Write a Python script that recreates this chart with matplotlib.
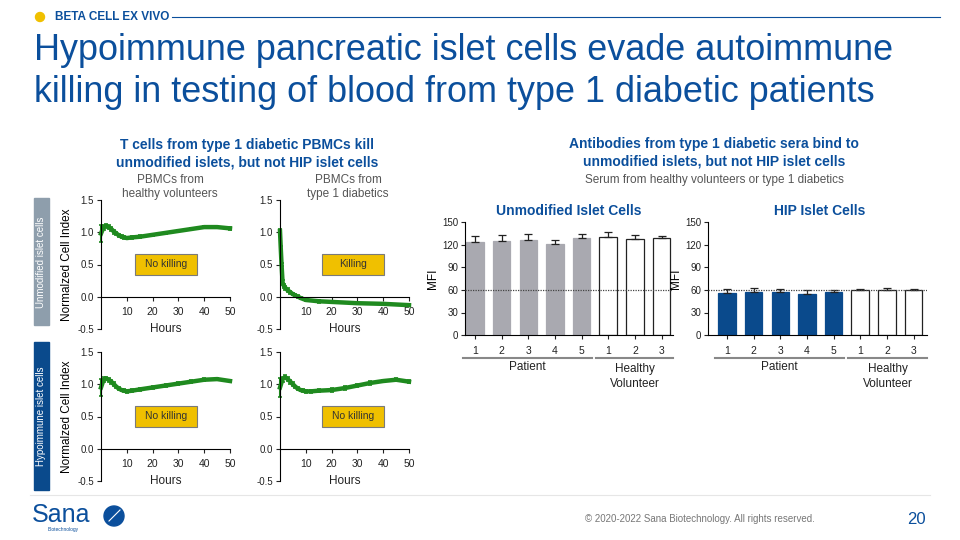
import numpy as np
import matplotlib
matplotlib.use('Agg')
import matplotlib.pyplot as plt
from matplotlib.patches import Rectangle, Ellipse

plt.rcParams['font.family'] = ['Liberation Sans', 'DejaVu Sans']

BLUE = '#0b4f9c'
GREEN = '#1f8a1f'
GOLD = '#f0c000'

# ---- impedance (cell index) curves ----
t_hv_unmod = [0, 1, 2, 3, 4, 5, 6, 7, 8, 9, 10, 12, 15, 20, 25, 30, 35, 40, 45, 50]
v_hv_unmod = [0.98, 1.08, 1.10, 1.08, 1.05, 1.01, 0.98, 0.95, 0.93, 0.92, 0.91, 0.92,
              0.93, 0.96, 0.99, 1.02, 1.05, 1.08, 1.08, 1.06]
e_hv_unmod = [0.13, 0.04, 0.03, 0.03, 0.03, 0.03, 0.02, 0.02, 0.02, 0.02, 0.02, 0.02,
              0.02, 0.02, 0.02, 0.02, 0.02, 0.02, 0.02, 0.02]

t_t1d_unmod = [0, 0.3, 0.6, 1.0, 1.5, 2, 3, 4, 5, 6, 7, 8, 10, 15, 20, 30, 40, 50]
v_t1d_unmod = [1.02, 0.75, 0.50, 0.22, 0.17, 0.14, 0.10, 0.07, 0.04, 0.02, 0.00, -0.02,
               -0.05, -0.07, -0.08, -0.10, -0.11, -0.13]
e_t1d_unmod = [0.03, 0.03, 0.02, 0.04, 0.03, 0.03, 0.03, 0.02, 0.02, 0.02, 0.02, 0.02,
               0.02, 0.02, 0.02, 0.02, 0.02, 0.02]

t_hv_hip = [0, 1, 2, 3, 4, 5, 6, 7, 8, 9, 10, 12, 15, 20, 25, 30, 35, 40, 45, 50]
v_hv_hip = [0.95, 1.07, 1.09, 1.07, 1.04, 1.00, 0.96, 0.93, 0.91, 0.90, 0.89, 0.90,
            0.92, 0.95, 0.98, 1.01, 1.04, 1.07, 1.08, 1.05]
e_hv_hip = [0.13, 0.04, 0.03, 0.03, 0.03, 0.03, 0.02, 0.02, 0.02, 0.02, 0.02, 0.02,
            0.02, 0.02, 0.02, 0.02, 0.02, 0.02, 0.02, 0.02]

t_t1d_hip = [0, 1, 2, 3, 4, 5, 6, 7, 8, 9, 10, 12, 15, 20, 25, 30, 35, 40, 45, 50]
v_t1d_hip = [0.95, 1.08, 1.11, 1.08, 1.04, 1.00, 0.96, 0.93, 0.91, 0.90, 0.89, 0.89,
             0.90, 0.91, 0.94, 0.98, 1.02, 1.05, 1.07, 1.04]
e_t1d_hip = [0.15, 0.04, 0.03, 0.03, 0.03, 0.03, 0.02, 0.02, 0.02, 0.02, 0.02, 0.02,
             0.02, 0.03, 0.03, 0.03, 0.03, 0.02, 0.02, 0.02]

# ---- MFI bars ----
bar_labels = ['1', '2', '3', '4', '5', '1', '2', '3']
mfi_unmod = [124, 125, 127, 121, 129, 130, 128, 129]
err_unmod = [8, 8, 8, 5, 6, 7, 5, 3]
mfi_hip = [56, 58, 58, 55, 57, 60, 60, 60]
err_hip = [5, 5, 3, 5, 3, 2, 3, 2]
n_patients = 5

W, H = 960, 540
fig = plt.figure(figsize=(9.6, 5.4), dpi=100)


def fx(px):
    return px / W


def fy(py):
    return 1 - py / H


def dot(cx, cy, r, color):
    fig.add_artist(Ellipse((fx(cx), fy(cy)), 2 * r / W, 2 * r / H,
                           transform=fig.transFigure, color=color, zorder=3))


# header
dot(40, 17, 4.5, GOLD)
fig.text(fx(55), fy(17), 'BETA CELL EX VIVO', fontsize=8.5, fontweight='bold',
         color=BLUE, va='center')
fig.add_artist(plt.Line2D([fx(172), fx(940)], [fy(17), fy(17)], color=BLUE, lw=0.8))
fig.text(fx(34), fy(51), 'Hypoimmune pancreatic islet cells evade autoimmune',
         fontsize=25.9, color=BLUE, va='center')
fig.text(fx(34), fy(92), 'killing in testing of blood from type 1 diabetic patients',
         fontsize=25.9, color=BLUE, va='center')

# section headings
fig.text(fx(247), fy(154), 'T cells from type 1 diabetic PBMCs kill\nunmodified islets, but not HIP islet cells',
         fontsize=10, fontweight='bold', color=BLUE, ha='center', va='center',
         linespacing=1.3)
fig.text(fx(170), fy(187), 'PBMCs from\nhealthy volunteers', fontsize=8.5, color='#555555',
         ha='center', va='center', linespacing=1.3)
fig.text(fx(348), fy(187), 'PBMCs from\ntype 1 diabetics', fontsize=8.5, color='#555555',
         ha='center', va='center', linespacing=1.3)
fig.text(fx(714), fy(153), 'Antibodies from type 1 diabetic sera bind to\nunmodified islets, but not HIP islet cells',
         fontsize=10, fontweight='bold', color=BLUE, ha='center', va='center',
         linespacing=1.3)
fig.text(fx(714), fy(180), 'Serum from healthy volunteers or type 1 diabetics',
         fontsize=8.5, color='#555555', ha='center', va='center')

# side labels
fig.add_artist(Rectangle((fx(34), fy(325)), fx(15), (325 - 198) / H,
                         transform=fig.transFigure, color='#8e9eac'))
fig.text(fx(41.5), fy(262), 'Unmodified islet cells', rotation=90, fontsize=7,
         color='white', ha='center', va='center')
fig.add_artist(Rectangle((fx(34), fy(490)), fx(15), (490 - 342) / H,
                         transform=fig.transFigure, color='#0a4a8c'))
fig.text(fx(41.5), fy(416), 'Hypoimmune islet cells', rotation=90, fontsize=7,
         color='white', ha='center', va='center')


def line_panel(left_px, top_px, t, v, e, label, ylabel):
    ax = fig.add_axes([fx(left_px), fy(top_px + 129), fx(129), 129 / H])
    ax.errorbar(t, v, yerr=e, color=GREEN, lw=3.2, elinewidth=1.5, capsize=1.5,
                capthick=1.2, clip_on=False)
    ax.set_xlim(0, 50)
    ax.set_ylim(-0.5, 1.5)
    ax.spines['bottom'].set_position(('data', 0))
    ax.spines['top'].set_visible(False)
    ax.spines['right'].set_visible(False)
    ax.set_xticks([10, 20, 30, 40, 50])
    ax.set_yticks([-0.5, 0.0, 0.5, 1.0, 1.5])
    ax.set_yticklabels(['-0.5', '0.0', '0.5', '1.0', '1.5'])
    ax.tick_params(labelsize=7, length=3, width=0.8, colors='#222222', pad=2)
    ax.tick_params(axis='x', labelsize=7.5, pad=4.5)
    ax.patch.set_alpha(0)
    ax.text(0.5, 0.0, 'Hours', transform=ax.transAxes, ha='center', va='center',
            fontsize=8.5, color='#222222')
    if ylabel:
        ax.set_ylabel('Normalzed Cell Index', fontsize=8.5, labelpad=3)
    bx = 0.264 if left_px < 200 else 0.326
    ax.add_patch(Rectangle((bx, 0.42), 0.48, 0.163, transform=ax.transAxes,
                           facecolor=GOLD, edgecolor='#7a7a7a', lw=0.8, zorder=4))
    ax.text(bx + 0.24, 0.42 + 0.0815, label, transform=ax.transAxes, ha='center',
            va='center', fontsize=7.5, color='#333333', zorder=5)
    return ax


line_panel(101, 200, t_hv_unmod, v_hv_unmod, e_hv_unmod, 'No killing', True)
line_panel(280, 200, t_t1d_unmod, v_t1d_unmod, e_t1d_unmod, 'Killing', False)
line_panel(101, 352, t_hv_hip, v_hv_hip, e_hv_hip, 'No killing', True)
line_panel(280, 352, t_t1d_hip, v_t1d_hip, e_t1d_hip, 'No killing', False)


def bar_panel(left_px, right_px, x0_px, vals, errs, color, title, title_x):
    ax = fig.add_axes([fx(left_px), fy(335), fx(right_px - left_px), 112.5 / H])
    x = np.arange(len(vals))
    colors = [color] * n_patients + ['white'] * (len(vals) - n_patients)
    edges = [color] * n_patients + ['#222222'] * (len(vals) - n_patients)
    ax.bar(x, vals, width=0.66, color=colors, edgecolor=edges, lw=0.9, zorder=2)
    ax.errorbar(x, vals, yerr=[np.zeros(len(vals)), errs], fmt='none',
                ecolor='#222222', elinewidth=0.9, capsize=3, capthick=0.9, zorder=3)
    sp = 26.65
    ax.set_xlim((left_px - x0_px) / sp, (right_px - x0_px) / sp)
    ax.set_ylim(0, 150)
    ax.axhline(60, color='#444444', lw=0.9, ls=(0, (1, 1)), zorder=4)
    ax.spines['top'].set_visible(False)
    ax.spines['right'].set_visible(False)
    ax.set_xticks(x)
    ax.set_xticklabels(bar_labels)
    ax.set_yticks([0, 30, 60, 90, 120, 150])
    ax.tick_params(labelsize=7, length=3, width=0.8, colors='#222222', pad=2)
    ax.tick_params(axis='x', labelsize=7.5, pad=5)
    ax.set_ylabel('MFI', fontsize=8.5, labelpad=2)
    ax.patch.set_alpha(0)
    fig.text(fx(title_x), fy(211), title, fontsize=10, fontweight='bold', color=BLUE,
             ha='center', va='center')
    # group brackets
    p0 = x0_px - 12
    p1 = x0_px + 4 * sp + 10
    h0 = x0_px + 5 * sp - 12
    h1 = right_px
    fig.add_artist(plt.Line2D([fx(p0), fx(p1)], [fy(358), fy(358)], color='#888888', lw=1.5))
    fig.add_artist(plt.Line2D([fx(h0), fx(h1)], [fy(358), fy(358)], color='#888888', lw=1.5))
    fig.text(fx((p0 + p1) / 2), fy(367), 'Patient', fontsize=8.5, color='#222222',
             ha='center', va='center')
    fig.text(fx((h0 + h1) / 2), fy(376.5), 'Healthy\nVolunteer', fontsize=8.5, color='#222222',
             ha='center', va='center', linespacing=1.25)
    return ax


bar_panel(465, 673, 475, mfi_unmod, err_unmod, '#a9a9b0', 'Unmodified Islet Cells', 569)
bar_panel(708, 927, 727, mfi_hip, err_hip, '#0a4a8c', 'HIP Islet Cells', 820)

# footer
fig.add_artist(plt.Line2D([fx(30), fx(930)], [fy(495), fy(495)], color='#e6e6e6', lw=0.8))
fig.text(fx(32), fy(515), 'Sana', fontsize=18, color=BLUE, va='center')
fig.text(fx(48), fy(530), 'Biotechnology', fontsize=3.5, color=BLUE, va='center')
dot(114, 516, 10, BLUE)
fig.add_artist(plt.Line2D([fx(109), fx(120)], [fy(521), fy(510)], color='white', lw=0.8, zorder=4))
fig.text(fx(700), fy(519), '\u00a9 2020-2022 Sana Biotechnology. All rights reserved.',
         fontsize=7, color='#777777', ha='center', va='center')
fig.text(fx(916), fy(519), '20', fontsize=12, color=BLUE, ha='center', va='center')

fig.savefig('out.png', dpi=100)
